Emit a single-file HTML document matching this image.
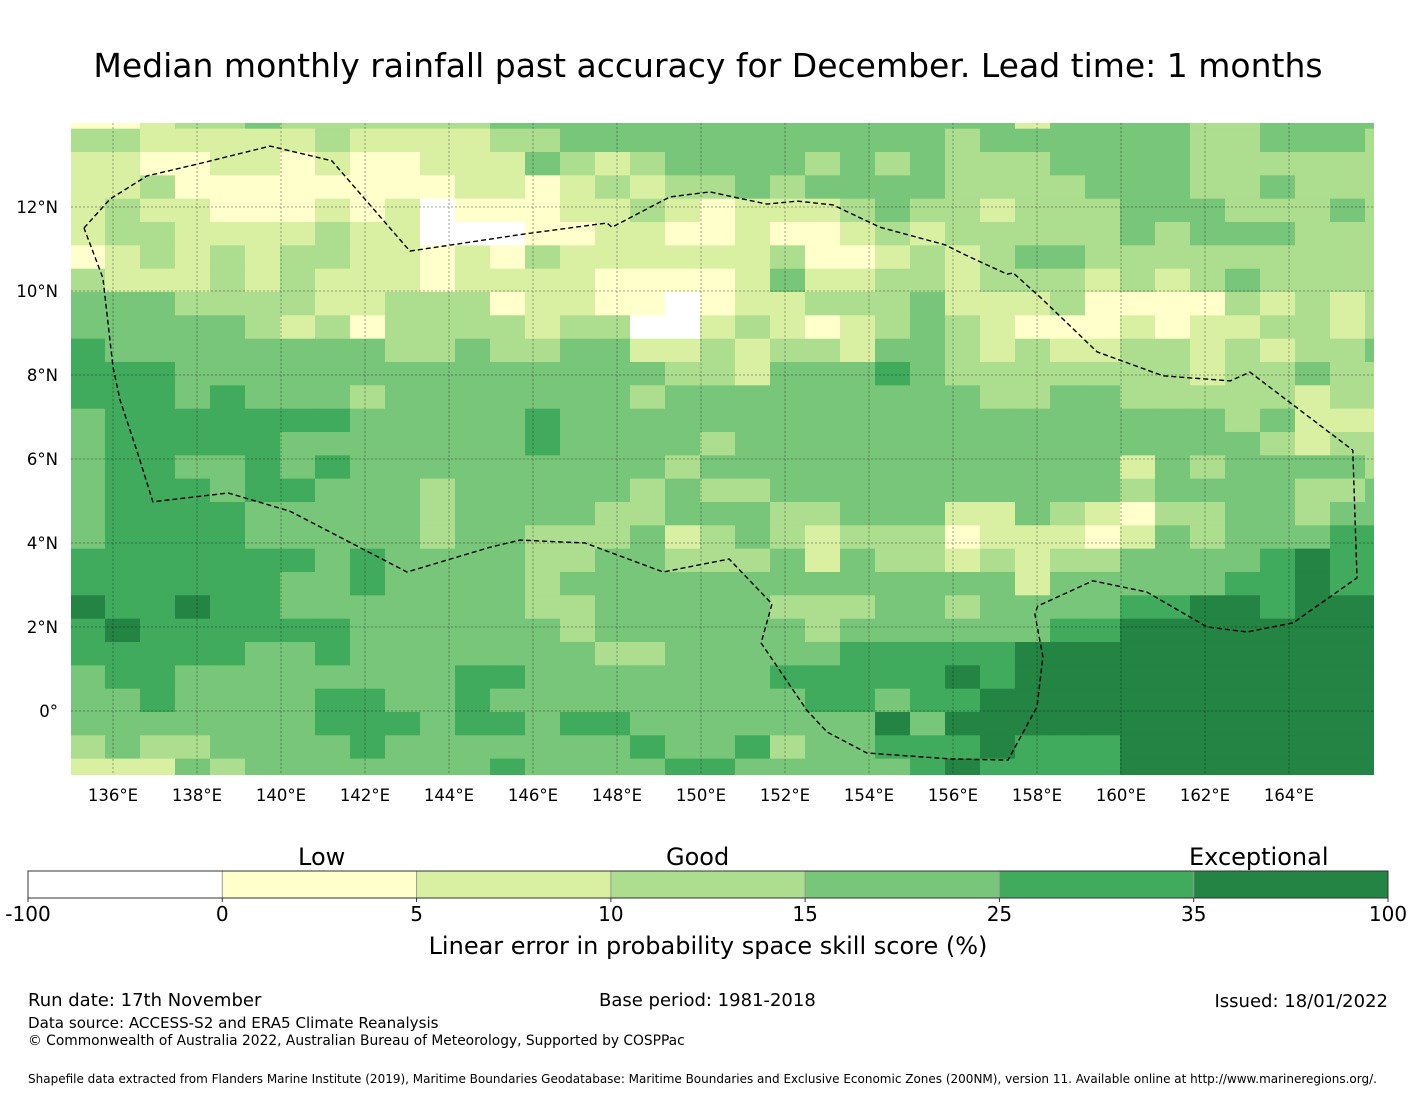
<!DOCTYPE html>
<html><head><meta charset="utf-8">
<style>
html,body{margin:0;padding:0;background:#fff;}
body{width:1416px;height:1095px;position:relative;overflow:hidden;font-family:"DejaVu Sans","Liberation Sans",sans-serif;color:#000;}
.t{position:absolute;white-space:nowrap;}
</style></head>
<body>
<div class="t" style="left:0;width:1416px;text-align:center;top:46px;font-size:33px;">Median monthly rainfall past accuracy for December. Lead time: 1 months</div>
<svg id="map" width="1416" height="1095" style="position:absolute;left:0;top:0" xmlns="http://www.w3.org/2000/svg"></svg>
<div class="t" style="left:298px;top:843px;font-size:24px;">Low</div>
<div class="t" style="left:666px;top:843px;font-size:24px;">Good</div>
<div class="t" style="left:1189px;top:843px;font-size:24px;">Exceptional</div>
<div class="t" style="left:0;width:1416px;text-align:center;top:932px;font-size:24px;">Linear error in probability space skill score (%)</div>
<div class="t" style="left:28px;top:990px;font-size:18px;">Run date: 17th November</div>
<div class="t" style="left:599px;top:990px;font-size:18px;">Base period: 1981-2018</div>
<div class="t" style="right:28px;top:991px;font-size:18px;">Issued: 18/01/2022</div>
<div class="t" style="left:28px;top:1014px;font-size:15.1px;">Data source: ACCESS-S2 and ERA5 Climate Reanalysis</div>
<div class="t" style="left:28px;top:1033px;font-size:13.8px;">© Commonwealth of Australia 2022, Australian Bureau of Meteorology, Supported by COSPPac</div>
<div class="t" style="left:28px;top:1072px;font-size:12px;">Shapefile data extracted from Flanders Marine Institute (2019), Maritime Boundaries Geodatabase: Maritime Boundaries and Exclusive Economic Zones (200NM), version 11. Available online at http://www.marineregions.org/.</div>
<script>
// grid categories (0..6) per row, north to south, 38 columns each
const gridRows = [
"1123343333334"+"444444444444"+"4424444334444",
"3322222322223"+"344444444444"+"3444444334443",
"2211221211222"+"432344443434"+"3334444333333",
"2231111111122"+"123233434444"+"3333444334333",
"2322111212011"+"122321222343"+"3233344433343",
"2332222322000"+"112211211232"+"3333343444333",
"1232323322121"+"322222231123"+"2344333333333",
"3222323222122"+"221111242233"+"2333232343333",
"4443333223331"+"221101223334"+"2223111132323",
"4444432313333"+"233002321234"+"3211121223323",
"5444444443343"+"344223233244"+"3232233232334",
"5554444444444"+"444433244454"+"3333333233433",
"5554544434444"+"444344444444"+"4334433333233",
"4555555544444"+"544444444444"+"4444444434222",
"4555554444444"+"544443444444"+"4444444443233",
"4554454544444"+"444434444444"+"4444424344443",
"4555455444344"+"444343344444"+"4444434444334",
"4555544444344"+"443344433444"+"2243213344344",
"4555544444344"+"333423432333"+"1222124344455",
"5555555454444"+"334433342433"+"2323344445655",
"5555554454444"+"344444444444"+"4424444455655",
"6556554444444"+"334444433344"+"3444455665666",
"5655555544444"+"434444443444"+"4445566666666",
"5555544544444"+"443344444555"+"5566666666666",
"4554444444455"+"444444455555"+"6566666666666",
"4454444554454"+"444444445545"+"5666666666666",
"4444444555455"+"455444444464"+"6666666666666",
"3433444454444"+"444544534455"+"5655566666666",
"2224344444445"+"444455444445"+"6555566666666"
];
const colors = ["#ffffff","#ffffcc","#d9f0a3","#addd8e","#78c679","#41ab5d","#238443"];
const lonTicks = [136,138,140,142,144,146,148,150,152,154,156,158,160,162,164];
const latTicks = [12,10,8,6,4,2,0];
const cbTicks = ["-100","0","5","10","15","25","35","100"];
// EEZ boundary (lon, lat)
const eez = [[135.31,11.5],[135.93,12.19],[136.81,12.74],[138.0,13.02],[139.74,13.45],[141.21,13.1],[143.07,10.95],[145.81,11.36],[147.76,11.62],[147.88,11.52],[149.26,12.24],[150.21,12.36],[151.57,12.07],[152.29,12.14],[153.14,12.05],[154.26,11.52],[155.81,11.1],[156.29,10.86],[157.29,10.4],[157.43,10.43],[158.07,9.86],[159.43,8.55],[161.0,7.98],[162.6,7.86],[163.07,8.07],[165.52,6.21],[165.62,3.17],[164.1,2.1],[163.0,1.88],[162.05,2.0],[160.62,2.83],[159.33,3.1],[158.02,2.5],[157.95,2.31],[158.14,1.29],[158.0,0.1],[157.31,-1.17],[155.93,-1.14],[153.95,-1.0],[153.0,-0.5],[152.52,0.02],[151.43,1.62],[151.69,2.55],[150.67,3.62],[149.1,3.31],[147.24,4.0],[145.69,4.07],[144.98,3.9],[143.0,3.31],[140.21,4.76],[138.74,5.19],[136.95,4.98],[136.6,6.1],[136.17,7.4],[136.0,8.19],[135.76,10.31],[135.31,11.5]];
const NS="http://www.w3.org/2000/svg";
const svg=document.getElementById('map');
const X0=71,X1=1374,Y0=123,Y1=775;
function xOfLon(lon){return 113+(lon-136)*42;}
function yOfLat(lat){return 711-lat*42;}
function colX(c){return 70+c*35;}
function rowY(r){return r===0?123:128.67+(r-1)*23.333;}
function mk(tag,attrs){const e=document.createElementNS(NS,tag);for(const k in attrs)e.setAttribute(k,attrs[k]);svg.appendChild(e);return e;}
const defs=document.createElementNS(NS,'defs');
defs.innerHTML='<clipPath id="clp"><rect x="'+X0+'" y="'+Y0+'" width="'+(X1-X0)+'" height="'+(Y1-Y0)+'"/></clipPath>';
svg.appendChild(defs);
const g=document.createElementNS(NS,'g');g.setAttribute('clip-path','url(#clp)');svg.appendChild(g);


for(let r=0;r<gridRows.length;r++){
  const y=rowY(r), y2=rowY(r+1);
  for(let c=0;c<gridRows[r].length;c++){
    const v=+gridRows[r][c];
    const e=document.createElementNS(NS,'rect');
    e.setAttribute('x',colX(c));e.setAttribute('y',y);
    e.setAttribute('width',35.4);e.setAttribute('height',(y2-y)+0.4);
    e.setAttribute('fill',colors[v]);
    
    
    g.appendChild(e);
  }
}
// gridlines
lonTicks.forEach(l=>{
  const x=xOfLon(l);
  const ln=mk('line',{x1:x,y1:Y0,x2:x,y2:Y1,stroke:'#000','stroke-opacity':0.35,'stroke-width':1,'stroke-dasharray':'2,2'});
  
  
  const t=mk('text',{x:x,y:801,'text-anchor':'middle','font-size':16.5,'font-family':'DejaVu Sans, Liberation Sans, sans-serif'});
  t.textContent=l+'°E';
  
  
});
latTicks.forEach(l=>{
  const y=yOfLat(l);
  const ln=mk('line',{x1:X0,y1:y,x2:X1,y2:y,stroke:'#000','stroke-opacity':0.35,'stroke-width':1,'stroke-dasharray':'2,2'});
  
  
  const t=mk('text',{x:58,y:y+6,'text-anchor':'end','font-size':16.5,'font-family':'DejaVu Sans, Liberation Sans, sans-serif'});
  t.textContent=l===0?'0°':l+'°N';
  
  
});
// EEZ
const eg=document.createElementNS(NS,'polyline');
eg.setAttribute('points',eez.map(p=>xOfLon(p[0]).toFixed(1)+','+yOfLat(p[1]).toFixed(1)).join(' '));
eg.setAttribute('fill','none');eg.setAttribute('stroke','#000');eg.setAttribute('stroke-width','1.4');eg.setAttribute('stroke-dasharray','5,3');
eg.setAttribute('clip-path','url(#clp)');


svg.appendChild(eg);
// colorbar
const cbX=28,cbW=1360,cbY=871,cbH=27,seg=cbW/7;
for(let i=0;i<7;i++){
  const e=mk('rect',{x:cbX+i*seg,y:cbY,width:seg+0.5,height:cbH,fill:colors[i]});
  
  
}
for(let i=1;i<7;i++){mk('line',{x1:cbX+i*seg,y1:cbY,x2:cbX+i*seg,y2:cbY+cbH,stroke:'#999','stroke-width':1});}
const fr=mk('rect',{x:cbX,y:cbY,width:cbW,height:cbH,fill:'none',stroke:'#333','stroke-width':1});


cbTicks.forEach((t,i)=>{
  const x=cbX+i*seg;
  mk('line',{x1:x,y1:cbY+cbH,x2:x,y2:cbY+cbH+4,stroke:'#333'});
  const tx=mk('text',{x:x,y:921,'text-anchor':'middle','font-size':20,'font-family':'DejaVu Sans, Liberation Sans, sans-serif'});
  tx.textContent=t;
  
  
});
</script>
</body></html>
